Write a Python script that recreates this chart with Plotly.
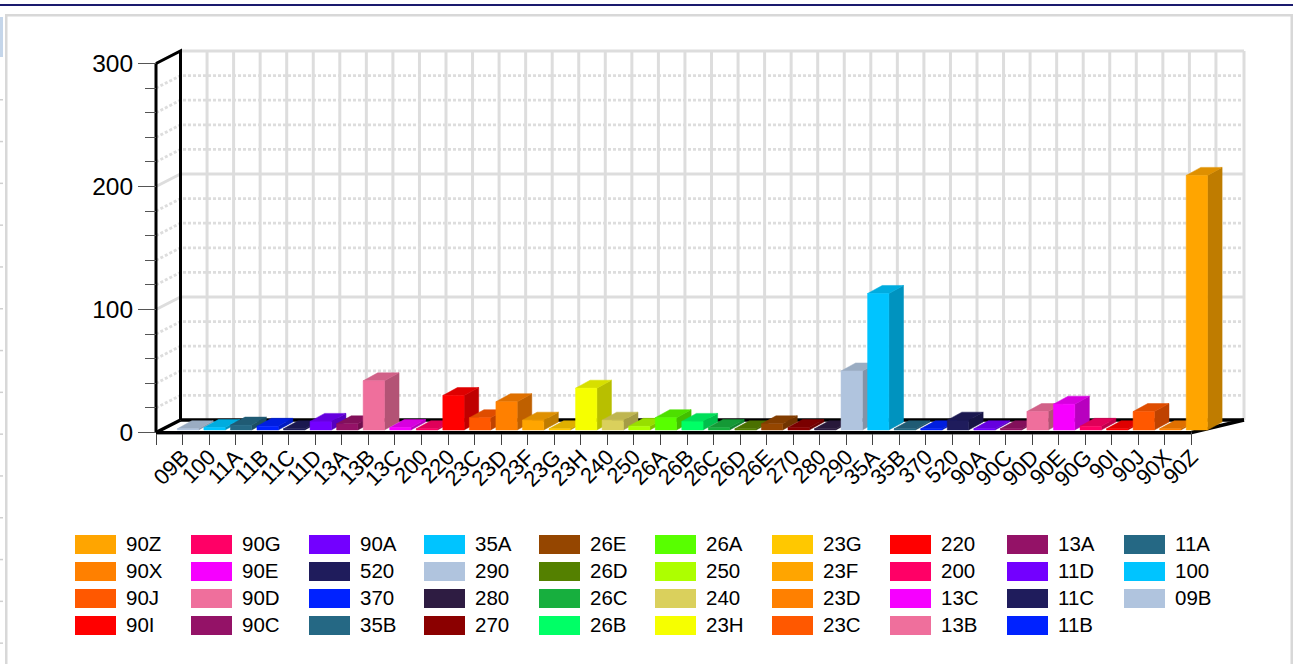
import plotly.graph_objects as go

CATEGORIES = ["09B","100","11A","11B","11C","11D","13A","13B","13C","200","220","23C","23D","23F","23G","23H","240","250","26A","26B","26C","26D","26E","270","280","290","35A","35B","370","520","90A","90C","90D","90E","90G","90I","90J","90X","90Z"]
VALUES = [1,2,4,3,1,7,5,40,2,1,28,10,23,8,1,34,8,3,10,7,2,1,5,2,1,48,111,1,1,8,1,1,15,21,3,1,15,1,207]
COLORS = ["#B0C4DE","#00C4FF","#256884","#0022FF","#1F1C5C","#7300FF","#941267","#EF6F9C","#F600FF","#FF0066","#FF0000","#FF5800","#FF8000","#FFA500","#FFC800","#F6FF00","#DAD05C","#ADFF00","#58FF00","#00FF66","#17AF3E","#548000","#954600","#8B0000","#2E1C42","#B0C4DE","#00C4FF","#256884","#0022FF","#1F1C5C","#7300FF","#941267","#EF6F9C","#F600FF","#FF0066","#FF0000","#FF5800","#FF8000","#FFA500"]
Y_TICKS = [0, 100, 200, 300]
MINOR_TICKS = [20,40,60,80,120,140,160,180,220,240,260,280]

W, H = 1293, 664
# front-left-bottom origin of the chart box, and its back-right-top extent
OX, OY = 156.0, 432.5
BOX_R, BOX_T = 1244.0, 51.0
# plot rectangle, larger than the box so the heavy outline is never cut
PL, PR, PT, PB = 120.0, 1275.0, 30.0, 460.0
STEP = 26.55
UNIT = 1.23
XTOP = (BOX_R - OX) / STEP
YTOP = (OY - BOX_T) / UNIT
WALL_DX, WALL_DY = 24.5 / STEP, 12.5 / UNIT
BAR_LEFT, BAR_W = 21.3 / STEP, 21.3 / STEP
BAR_DX, BAR_DY = 14.6 / STEP, 8.0 / UNIT
BAR_BASE = 2.5 / UNIT
N = len(CATEGORIES) + 1
GRID = "#dddddd"
FONT = "Arial, 'Liberation Sans', sans-serif"


def shade(col, f):
    r, g, b = int(col[1:3], 16), int(col[3:5], 16), int(col[5:7], 16)
    return f"rgb({r*f:.0f},{g*f:.0f},{b*f:.0f})"


def px_x(p):
    return (p - PL) / (PR - PL)


def px_y(p):
    return (PB - p) / (PB - PT)


fig = go.Figure()


def line(xs, ys, color, width, dash=None):
    fig.add_trace(go.Scatter(x=xs, y=ys, mode="lines", cliponaxis=False, showlegend=False, hoverinfo="skip",
                             line=dict(color=color, width=width, dash=dash, simplify=False)))


def face(xs, ys, color, name):
    fig.add_trace(go.Scatter(x=xs, y=ys, mode="lines", fill="toself", fillcolor=color, cliponaxis=False,
                             showlegend=False, name=name, line=dict(color=color, width=0.5)))


# back wall and side wall grid
for i in range(N):
    line([i + WALL_DX] * 2, [WALL_DY, YTOP], GRID, 3)
line([XTOP, XTOP], [WALL_DY, YTOP], GRID, 3)
for v in MINOR_TICKS:
    line([0, WALL_DX, XTOP], [v, v + WALL_DY, v + WALL_DY], GRID, 2.8, "3px,2px")
for v in Y_TICKS[1:]:
    line([0, WALL_DX, XTOP], [v, v + WALL_DY, v + WALL_DY], GRID, 3)

# floor and wall outline
line([WALL_DX, XTOP], [WALL_DY, WALL_DY], "black", 3.4)
line([0, WALL_DX, WALL_DX], [300, 300 + WALL_DY, WALL_DY], "black", 3)
line([0, 0], [0, 300], "black", 3)
line([0, WALL_DX], [0, WALL_DY], "black", 3.4)
line([N - 1, XTOP], [0, WALL_DY], "black", 3.4)

# bars, painted left to right
for i, (cat, val, col) in enumerate(zip(CATEGORIES, VALUES, COLORS)):
    x0, x1 = i + BAR_LEFT, i + BAR_LEFT + BAR_W
    y0, y1 = BAR_BASE, BAR_BASE + val
    face([x1, x1 + BAR_DX, x1 + BAR_DX, x1, x1], [y0, y0 + BAR_DY, y1 + BAR_DY, y1, y0], shade(col, 0.75), cat)
    face([x0, x0 + BAR_DX, x1 + BAR_DX, x1, x0], [y1, y1 + BAR_DY, y1 + BAR_DY, y1, y1], shade(col, 0.875), cat)
    face([x0, x1, x1, x0, x0], [y0, y0, y1, y1, y0], col, cat)

line([0, N - 1], [-1.4, -1.4], "#999999", 1.5)
line([0, N - 1], [0, 0], "black", 3.2)

# legend: ten columns of four rows, last category first
LEG_X = [75, 191, 309, 424, 539, 655, 772, 890, 1007, 1124]
shapes, annotations = [], []
for k, (cat, col) in enumerate(zip(CATEGORIES[::-1], COLORS[::-1])):
    cx, row = LEG_X[k // 4], k % 4
    top = 535 + 27 * row
    shapes.append(dict(type="rect", xref="paper", yref="paper", x0=px_x(cx), x1=px_x(cx + 41), y0=px_y(top), y1=px_y(top + 19),
                       fillcolor=col, line=dict(width=0)))
    annotations.append(dict(text=cat, xref="paper", yref="paper", x=px_x(cx + 49), y=px_y(top + 8.5), xanchor="left",
                            yanchor="middle", showarrow=False, font=dict(family=FONT, size=20.5, color="black")))


def rect(a, b, c, d, color):
    shapes.append(dict(type="rect", xref="paper", yref="paper", x0=px_x(a), x1=px_x(c), y0=px_y(b), y1=px_y(d),
                       fillcolor=color, line=dict(width=0), layer="below"))


# page furniture around the chart panel
rect(0, 4, W, 6, "#1a1a6e")
rect(5, 14, 1292, 16.5, "#d8d8d8")
rect(5, 14, 7.5, H, "#d8d8d8")
rect(1290.5, 14, 1293, H, "#d8d8d8")
rect(0, 17, 3, 57, "#c5d6ea")
for j in range(14):
    rect(0, 99 + j * 41.8, 3, 100.5 + j * 41.8, "#d0d0d0")

fig.update_layout(
    width=W, height=H, autosize=False,
    margin=dict(l=PL, r=W - PR, t=PT, b=H - PB, pad=0),
    paper_bgcolor="white", plot_bgcolor="rgba(0,0,0,0)",
    showlegend=False, shapes=shapes, annotations=annotations,
    font=dict(family=FONT, color="black"),
    xaxis=dict(range=[(PL - OX) / STEP, (PR - OX) / STEP], anchor="free", position=(PB - OY) / (PB - PT),
               tickmode="array", tickvals=list(range(N)), ticktext=[""] + CATEGORIES,
               tickangle=-45, ticks="outside", ticklen=11, tickwidth=1.2, tickcolor="#444444", ticklabelstandoff=-9,
               tickfont=dict(family=FONT, size=22, color="black"), showgrid=False, zeroline=False, showline=False),
    yaxis=dict(range=[(OY - PB) / UNIT, (OY - PT) / UNIT], anchor="free", position=(OX - PL) / (PR - PL),
               tickmode="array", tickvals=Y_TICKS, ticks="outside", ticklen=18, tickwidth=1.2,
               tickcolor="#555555", tickfont=dict(family=FONT, size=24.5, color="black"), showgrid=False,
               zeroline=False, showline=False,
               minor=dict(tickmode="array", tickvals=MINOR_TICKS, ticks="outside", ticklen=11, tickwidth=1.2, tickcolor="#555555", showgrid=False)),
)
fig.write_html("out.html", config={"displayModeBar": False},
               post_script="document.body.style.margin='0';document.body.style.overflow='hidden';")
